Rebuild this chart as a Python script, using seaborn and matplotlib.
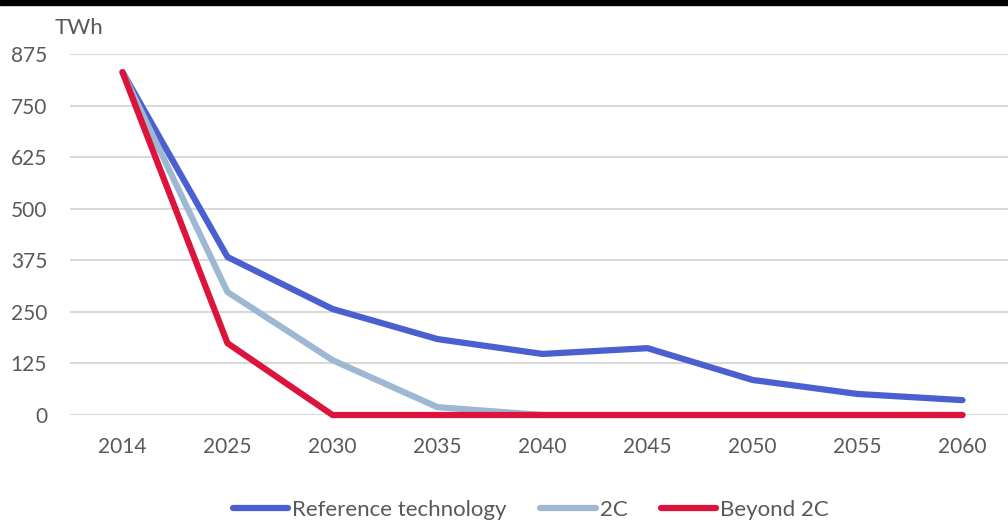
import seaborn as sns
import matplotlib.pyplot as plt
import pandas as pd
from matplotlib.patches import Rectangle

years = ['2014', '2025', '2030', '2035', '2040', '2045', '2050', '2055', '2060']
reference = [831, 383, 257, 184, 148, 162, 85, 51, 36]
two_c = [831, 298, 133, 19, 0, 0, 0, 0, 0]
beyond_2c = [831, 174, 0, 0, 0, 0, 0, 0, 0]
series_names = ['Reference technology', '2C', 'Beyond 2C']
colors = ['#4A5FD0', '#9DB8D2', '#DC143C']
yticks = [0, 125, 250, 375, 500, 625, 750, 875]

df = pd.DataFrame({'year': years * 3,
                   'value': reference + two_c + beyond_2c,
                   'scenario': [n for n in series_names for _ in years]})

sns.set_style('white')
plt.rcParams['font.family'] = ['Lato', 'DejaVu Sans']
text_color = '#595959'

fig = plt.figure(figsize=(10.08, 5.21), dpi=100)
ax = fig.add_axes([70 / 1008, 1 - 415 / 521, 945 / 1008, 361 / 521])
sns.lineplot(data=df, x='year', y='value', hue='scenario', palette=colors,
             linewidth=4.5, sort=False, ax=ax, legend=False)
for line in ax.lines:
    line.set_solid_capstyle('round')
    line.set_clip_on(False)

ax.set_xlim(-0.5, len(years) - 0.5)
ax.set_ylim(0, 875)
ax.set_yticks(yticks)
ax.set_yticklabels([str(t) for t in yticks])
ax.yaxis.grid(True, color='#D9D9D9', linewidth=1.5)
ax.set_axisbelow(True)
for s in ax.spines.values():
    s.set_visible(False)
ax.tick_params(axis='both', length=0, labelsize=15, labelcolor=text_color)
ax.tick_params(axis='y', pad=16.5)
ax.tick_params(axis='x', pad=16)
ax.set_xlabel('')
ax.set_ylabel('')

fig.text(55 / 1008, 1 - 28 / 521, 'TWh', fontsize=16, color=text_color,
         ha='left', va='center')

handles = [plt.Line2D([], [], color=c, linewidth=4.5, solid_capstyle='round')
           for c in colors]
fig.legend(handles, series_names, loc='center', bbox_to_anchor=(531 / 1008, 1 - 510 / 521),
           ncol=3, frameon=False, fontsize=16, labelcolor=text_color,
           handlelength=2.5, handletextpad=0.18, columnspacing=1.5)

fig.patches.append(Rectangle((0, 1 - 5 / 521), 1, 5 / 521, transform=fig.transFigure,
                             color='black', zorder=10))

fig.savefig('out.png', dpi=100)
